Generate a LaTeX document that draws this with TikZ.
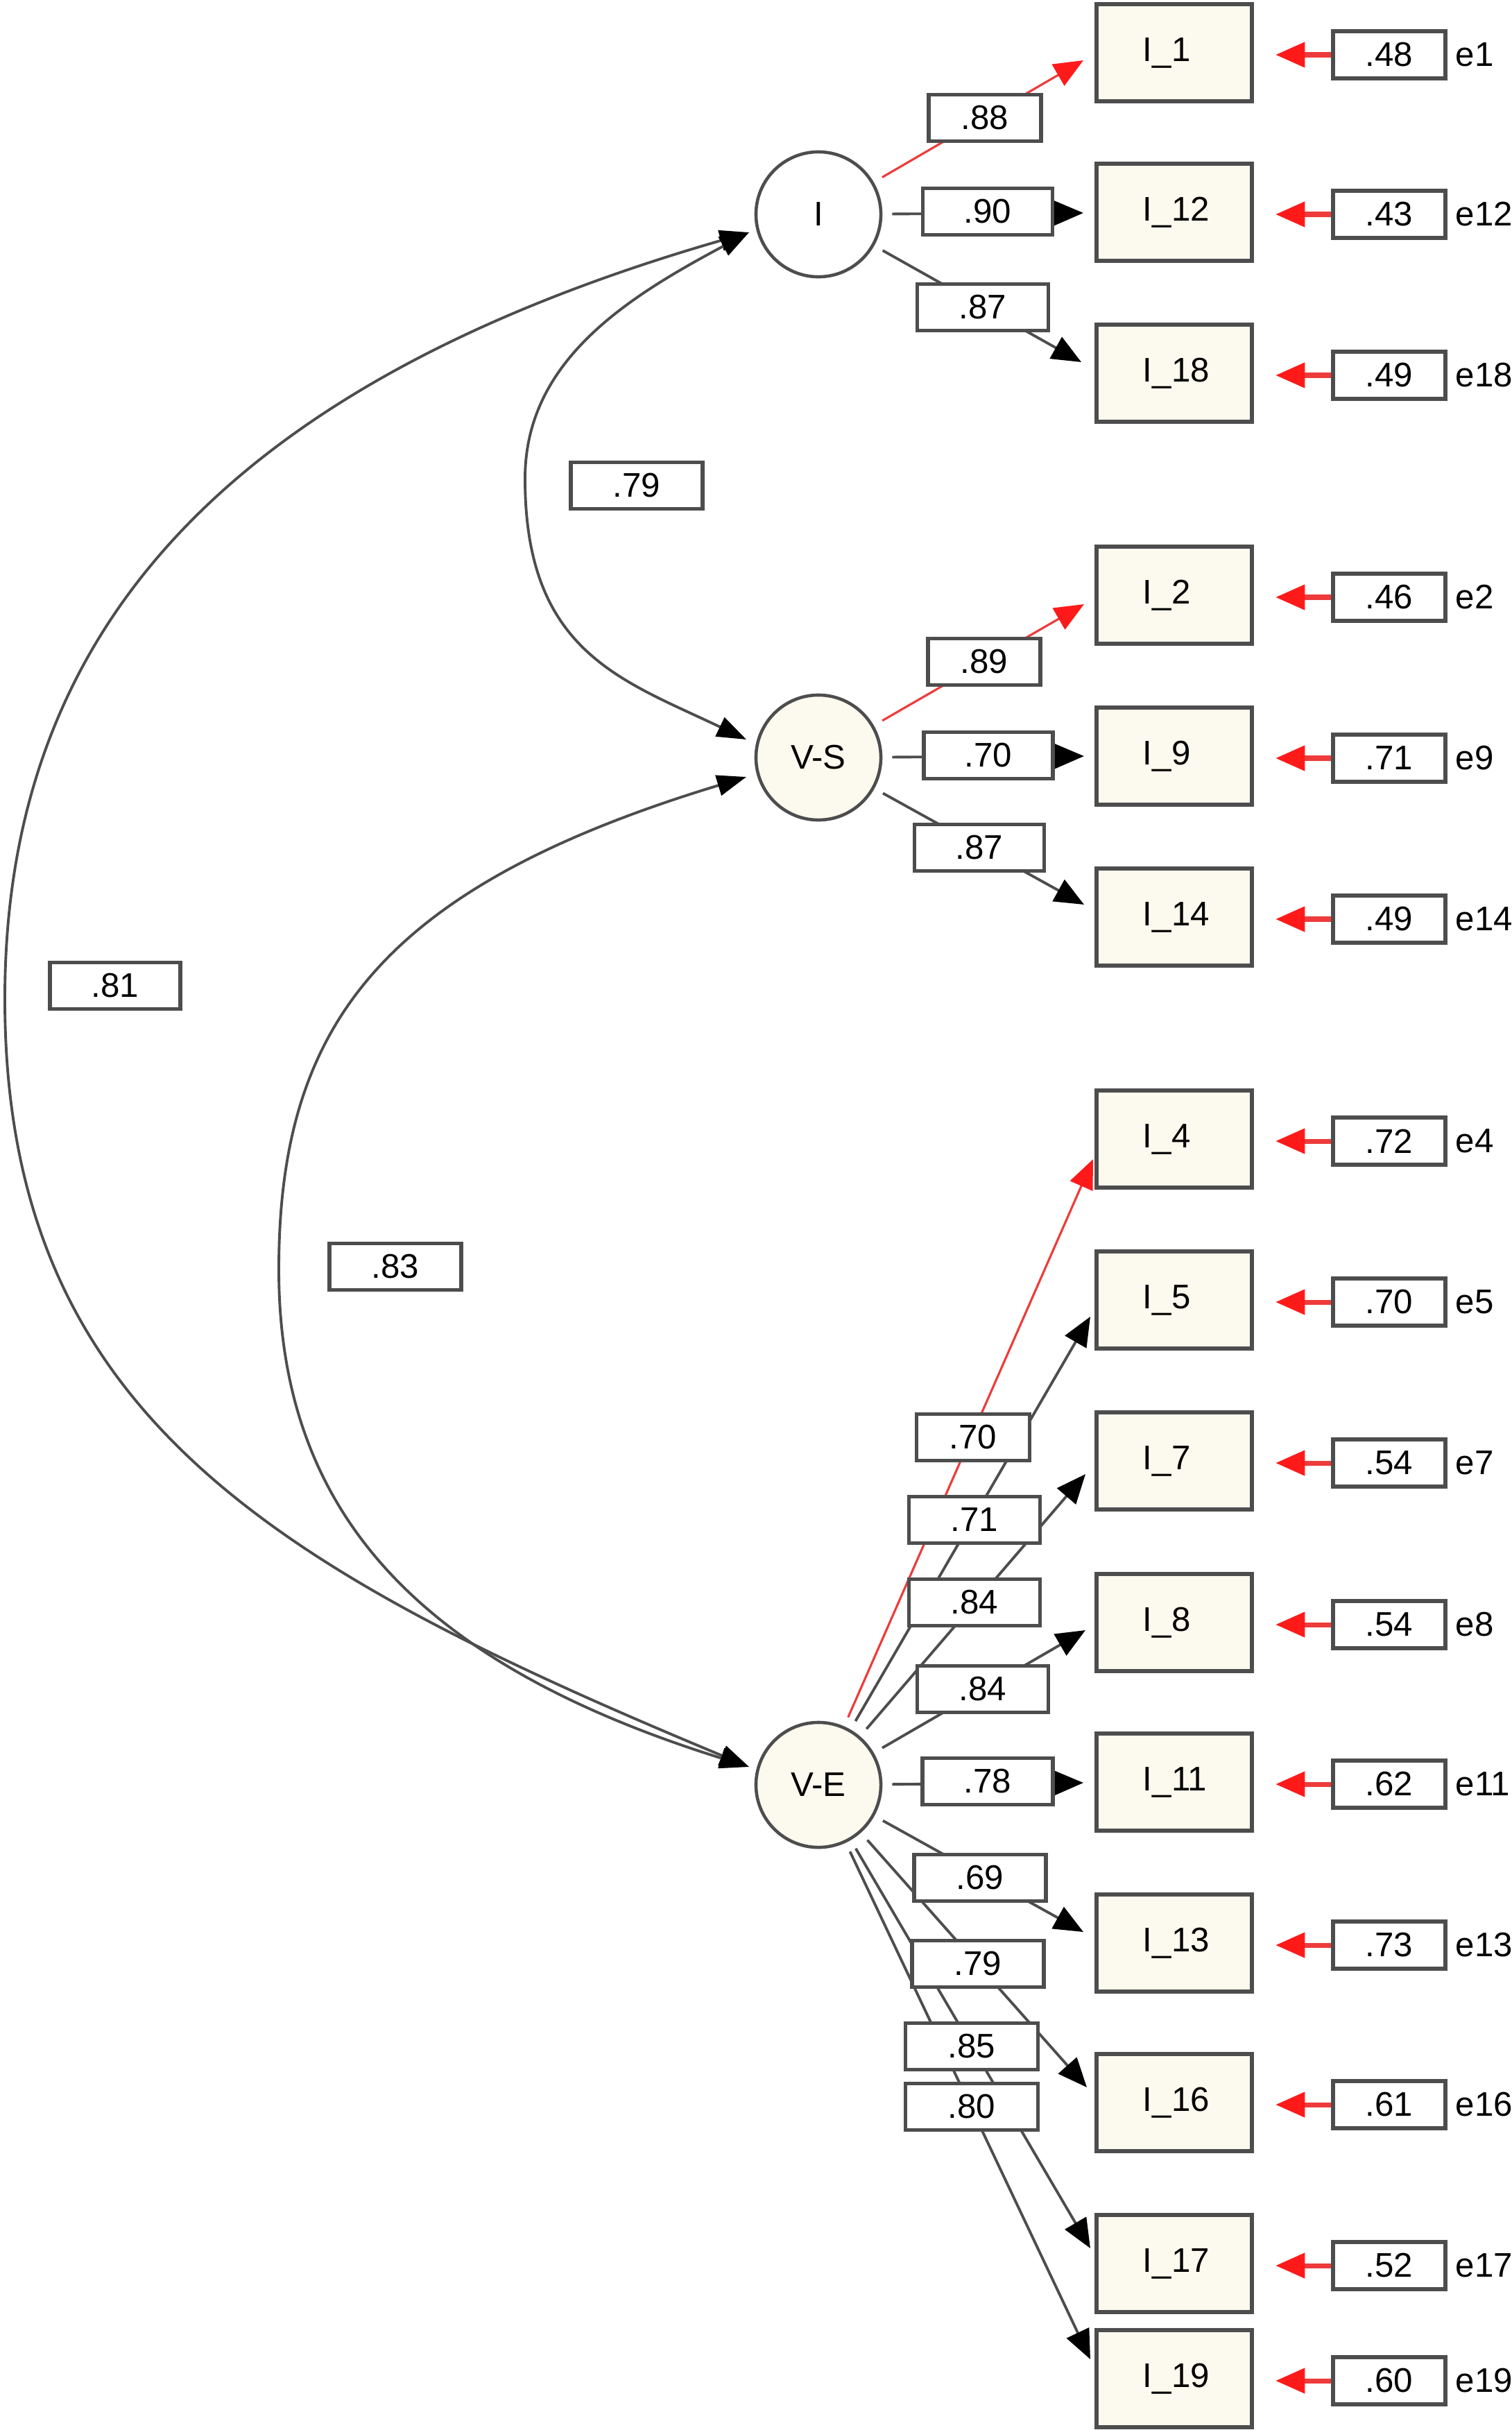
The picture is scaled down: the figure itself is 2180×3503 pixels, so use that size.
\documentclass[tikz,border=0pt]{standalone}
\usepackage{fontspec}
\setmainfont{Liberation Sans}
\usetikzlibrary{arrows.meta}
\definecolor{cream}{HTML}{FCF9EE}
\definecolor{bord}{HTML}{4D4D4D}
\definecolor{lred}{HTML}{EE3B3B}
\definecolor{hred}{HTML}{FF1A1A}
\begin{document}
\begin{tikzpicture}[x=0.01cm,y=-0.01cm,
  font=\fontsize{14}{16}\selectfont,
  lat/.style={circle,draw=bord,line width=1.3pt,minimum size=1.8cm,inner sep=0pt},
  obs/.style={rectangle,draw=bord,line width=1.7pt,fill=cream,minimum width=2.24cm,minimum height=1.40cm,inner sep=0pt},
  lab/.style={rectangle,draw=bord,line width=1.5pt,fill=white,minimum width=1.88cm,minimum height=0.67cm,inner sep=0pt},
  errbox/.style={lab,minimum width=1.62cm,minimum height=0.68cm},
  load/.style={draw=bord,line width=1.1pt,-{Triangle[length=12pt,width=10pt,color=black]},shorten <=0.14cm},
  redload/.style={draw=lred,line width=0.9pt,-{Triangle[length=12pt,width=10pt,color=hred]},shorten <=0.14cm},
  errarr/.style={draw=lred,line width=2pt,-{Triangle[length=12pt,width=10pt,color=hred]},shorten >=0.31cm},
  cov/.style={draw=bord,line width=1.1pt,{Triangle[length=12pt,width=8.5pt,color=black]}-{Triangle[length=12pt,width=8.5pt,color=black]}}
]
\useasboundingbox (0,0) rectangle (2180,3503);

% latent variables
\node[lat,fill=white] (I) at (1180,309) {I};
\node[lat,fill=cream] (VS) at (1180,1092) {V-S};
\node[lat,fill=cream] (VE) at (1180,2573) {V-E};

% indicators, error terms
\foreach \n/\y/\v in {1/76/.48, 12/306/.43, 18/538/.49, 2/858/.46, 9/1090/.71, 14/1322/.49,
  4/1642/.72, 5/1874/.70, 7/2106/.54, 8/2339/.54, 11/2569/.62, 13/2801/.73, 16/3031/.61,
  17/3263/.52, 19/3429/.60}{
  \node[obs] (I\n) at (1693,\y) {\makebox[0.9cm][l]{I\_\n}};
  \node[errbox] (E\n) at (2003,\y+3) {\v};
  \node[anchor=west,inner sep=0pt] (L\n) at (2098,\y+3) {e\n};
  \draw[errarr] (E\n.west) -- (E\n.west -| I\n.east);
}

% arrow end points
\coordinate (t1) at (1562,87);
\coordinate (t12) at (1562,307);
\coordinate (t18) at (1559,522);
\coordinate (t2) at (1563,871);
\coordinate (t9) at (1563,1090);
\coordinate (t14) at (1563,1304);
\coordinate (t4) at (1576,1671);
\coordinate (t5) at (1572,1898);
\coordinate (t7) at (1565,2125);
\coordinate (t8) at (1565,2350);
\coordinate (t11) at (1562,2570);
\coordinate (t13) at (1562,2785);
\coordinate (t16) at (1567,3009);
\coordinate (t17) at (1572,3241);
\coordinate (t19) at (1572,3401);
\coordinate (tI) at (1080,335);
\coordinate (tVSa) at (1076,1066);
\coordinate (tVSb) at (1076,1120);
\coordinate (tVE) at (1080,2547);

% covariances
\draw[cov] (tI) .. controls (300,560) and (7,930) .. (7,1440) .. controls (7,2040) and (395,2262) .. (tVE);
\draw[cov] (tI) .. controls (904,429) and (757,520) .. (757,690) .. controls (757,940) and (896,980) .. (tVSa);
\draw[cov] (tVSb) .. controls (548,1280) and (402,1480) .. (402,1830) .. controls (402,2180) and (603,2398) .. (tVE);

% loadings
\draw[redload] (I) -- (t1);
\draw[load] (I) -- (t12);
\draw[load] (I) -- (t18);
\draw[redload] (VS) -- (t2);
\draw[load] (VS) -- (t9);
\draw[load] (VS) -- (t14);
\draw[redload] (VE) -- (t4);
\foreach \n in {5,7,8,11,13,16,17,19}{\draw[load] (VE) -- (t\n);}

% coefficient labels
\node[lab,minimum width=1.62cm] (p1) at (1420,170) {.88};
\node[lab,minimum width=1.87cm] (p12) at (1424,305) {.90};
\node[lab,minimum width=1.89cm] (p18) at (1417,443) {.87};
\node[lab,minimum width=1.62cm] (p2) at (1419,954) {.89};
\node[lab,minimum width=1.86cm] (p9) at (1425,1089) {.70};
\node[lab,minimum width=1.87cm] (p14) at (1412,1222) {.87};
\node[lab,minimum width=1.63cm] (p4) at (1403,2072) {.70};
\node[lab,minimum width=1.89cm] (p5) at (1405,2191) {.71};
\node[lab,minimum width=1.89cm] (p7) at (1405,2310) {.84};
\node[lab,minimum width=1.89cm] (p8) at (1417,2435) {.84};
\node[lab,minimum width=1.88cm] (p11) at (1424,2568) {.78};
\node[lab,minimum width=1.90cm] (p13) at (1413,2707) {.69};
\node[lab,minimum width=1.90cm] (p16) at (1410,2831) {.79};
\node[lab,minimum width=1.91cm] (p17) at (1401,2950) {.85};
\node[lab,minimum width=1.91cm] (p19) at (1401,3037) {.80};
\node[lab,minimum width=1.90cm] (c1) at (918,700) {.79};
\node[lab,minimum width=1.88cm] (c2) at (166,1421) {.81};
\node[lab,minimum width=1.90cm] (c3) at (570,1826) {.83};
\end{tikzpicture}
\end{document}
